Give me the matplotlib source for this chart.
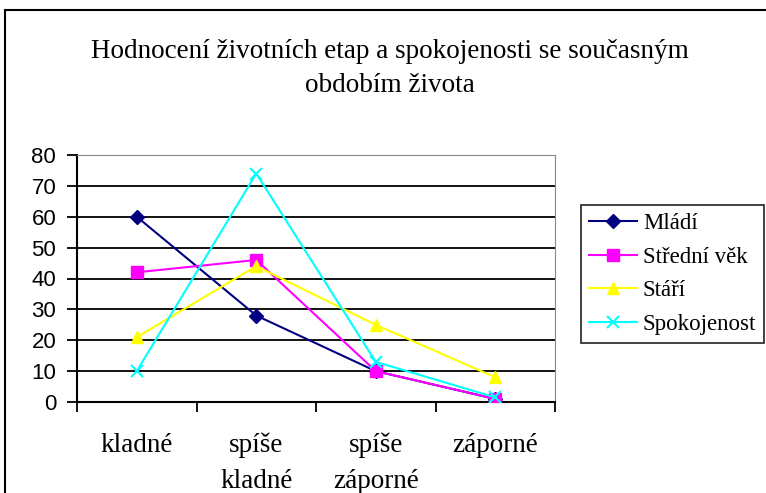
import matplotlib.pyplot as plt
from matplotlib.patches import Rectangle

# data
categories = ["kladné", "spíše\nkladné", "spíše\nzáporné", "záporné"]
mladi = [60, 28, 10, 1]
stredni_vek = [42, 46, 10, 1]
stari = [21, 44, 25, 8]
spokojenost = [10, 74, 13, 1.5]
y_ticks = [0, 10, 20, 30, 40, 50, 60, 70, 80]

serif = "Liberation Serif"
sans = "Liberation Sans"

fig = plt.figure(figsize=(7.66, 4.93), dpi=100)

# outer chart frame (runs off the right/bottom edge like the screenshot)
fig.patches.append(Rectangle((5 / 766, -0.2), 1.2, 1.2 - 10 / 493,
                             transform=fig.transFigure, fill=False,
                             edgecolor="black", linewidth=1.5))

ax = fig.add_axes([77 / 766, 1 - 402 / 493, (555 - 77) / 766, (402 - 155) / 493])

x = range(len(categories))
ax.plot(x, mladi, color="#000080", marker="D", markersize=7.5, linewidth=1.5, label="Mládí", zorder=3)
ax.plot(x, stredni_vek, color="#FF00FF", marker="s", markersize=8.5, linewidth=1.5, label="Střední věk", zorder=3)
ax.plot(x, stari, color="#FFFF00", marker="^", markersize=9, linewidth=1.5, label="Stáří", zorder=3)
ax.plot(x, spokojenost, color="#00FFFF", marker="x", markersize=9, markeredgewidth=1.5,
        linewidth=1.5, label="Spokojenost", zorder=3)

ax.set_xlim(-0.5, 3.5)
ax.set_ylim(0, 80)
ax.set_yticks(y_ticks)
ax.set_yticklabels([str(v) for v in y_ticks], fontfamily=sans, fontsize=16)

# category boundaries get the tick marks, labels sit in the middle
ax.set_xticks([-0.5, 0.5, 1.5, 2.5, 3.5])
ax.set_xticklabels([])
ax.set_xticks(list(x), minor=True)
ax.set_xticklabels(categories, minor=True, fontfamily=serif, fontsize=19.5, linespacing=1.55)
ax.tick_params(axis="x", which="major", direction="out", length=7, width=1.3)
ax.tick_params(axis="x", which="minor", length=0, pad=22)
ax.tick_params(axis="y", direction="out", length=7, width=1.3, pad=8)

ax.yaxis.grid(True, color="black", linewidth=1.3)
ax.set_axisbelow(True)
ax.spines["left"].set_linewidth(1.5)
ax.spines["bottom"].set_linewidth(1.5)
ax.spines["top"].set_color("#888888")
ax.spines["right"].set_color("#888888")

fig.text(390 / 766, 1 - 39 / 493,
         "Hodnocení životních etap a spokojenosti se současným\nobdobím života",
         ha="center", va="top", fontfamily=serif, fontsize=19.5, linespacing=1.5)

leg = ax.legend(loc="upper left", bbox_to_anchor=(581 / 766, 1 - 205 / 493),
                bbox_transform=fig.transFigure, prop={"family": serif, "size": 16.5},
                frameon=True, fancybox=False, borderpad=0.35, labelspacing=0.55,
                handlelength=2.1, handletextpad=0.25, borderaxespad=0)
leg.get_frame().set_edgecolor("black")
leg.get_frame().set_linewidth(1.3)

plt.savefig("out.png", dpi=100)
